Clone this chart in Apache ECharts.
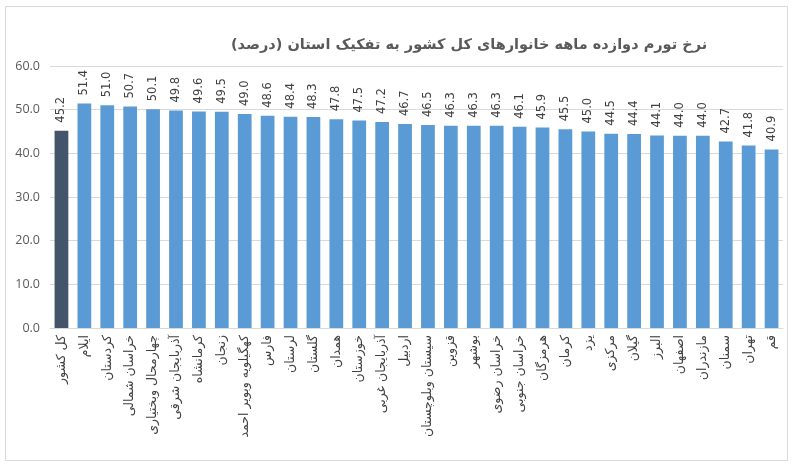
<!DOCTYPE html>
<html>
<head>
<meta charset="utf-8">
<script src="https://cdn.jsdelivr.net/npm/echarts@6/dist/echarts.min.js"></script>
<style>
    html, body { margin: 0; padding: 0; background: #fff; }
    #chart { width: 793px; height: 464px; }
</style>
</head>
<body>
<div id="chart"></div>
<script>
var titleText = '\u200Fنرخ تورم دوازده ماهه خانوارهای کل کشور به تفکیک استان (درصد)\u200F';

var provinces = ['کل کشور', 'ایلام', 'کردستان', 'خراسان شمالی', 'چهارمحال وبختیاری', 'آذربایجان شرقی',
    'کرمانشاه', 'زنجان', 'کهگیلویه وبویر احمد', 'فارس', 'لرستان', 'گلستان', 'همدان', 'خوزستان',
    'آذربایجان غربی', 'اردبیل', 'سیستان وبلوچستان', 'قزوین', 'بوشهر', 'خراسان رضوی', 'خراسان جنوبی',
    'هرمزگان', 'کرمان', 'یزد', 'مرکزی', 'گیلان', 'البرز', 'اصفهان', 'مازندران', 'سمنان', 'تهران', 'قم'];

var inflation = [45.2, 51.4, 51.0, 50.7, 50.1, 49.8, 49.6, 49.5, 49.0, 48.6, 48.4, 48.3, 47.8, 47.5,
    47.2, 46.7, 46.5, 46.3, 46.3, 46.3, 46.1, 45.9, 45.5, 45.0, 44.5, 44.4, 44.1, 44.0, 44.0, 42.7, 41.8, 40.9];

var yTicks = { min: 0, max: 60, interval: 10 };

var chart = echarts.init(document.getElementById('chart'));

// first bar (whole country) is dark, provinces are blue
var barData = inflation.map(function (v, i) {
    return {
        value: v,
        itemStyle: { color: i === 0 ? '#44546A' : '#5B9BD5' }
    };
});

chart.setOption({
    animation: false,
    backgroundColor: '#fff',
    title: {
        text: titleText,
        left: 464,
        top: 33,
        textAlign: 'center',
        textStyle: {
            fontFamily: 'DejaVu Sans',
            fontWeight: 'bold',
            fontSize: 14.5,
            color: '#595959'
        }
    },
    graphic: [{
        type: 'rect',
        shape: { x: 5.5, y: 6.5, width: 782, height: 454 },
        style: { fill: 'none', stroke: '#d9d9d9', lineWidth: 1 },
        silent: true
    }],
    grid: { left: 50, right: 10, top: 66, bottom: 136, containLabel: false },
    xAxis: {
        type: 'category',
        data: provinces,
        axisLine: { lineStyle: { color: '#d9d9d9' } },
        axisTick: { show: false },
        axisLabel: {
            interval: 0,
            rotate: 90,
            margin: 7,
            fontFamily: 'DejaVu Sans',
            fontSize: 12.5,
            color: '#404040'
        }
    },
    yAxis: {
        type: 'value',
        min: yTicks.min,
        max: yTicks.max,
        interval: yTicks.interval,
        axisLine: { show: false },
        axisTick: { show: false },
        splitLine: { lineStyle: { color: '#d9d9d9' } },
        axisLabel: {
            margin: 10,
            fontFamily: 'Open Sans',
            fontSize: 12.5,
            color: '#595959',
            formatter: function (v) { return v.toFixed(1); }
        }
    },
    series: [{
        type: 'bar',
        data: barData,
        barWidth: '60%',
        label: {
            show: true,
            position: 'top',
            rotate: 90,
            align: 'left',
            verticalAlign: 'middle',
            distance: 8,
            fontFamily: 'DejaVu Sans',
            fontSize: 11.5,
            color: '#404040',
            formatter: function (p) { return p.value.toFixed(1); }
        }
    }]
});
</script>
</body>
</html>
